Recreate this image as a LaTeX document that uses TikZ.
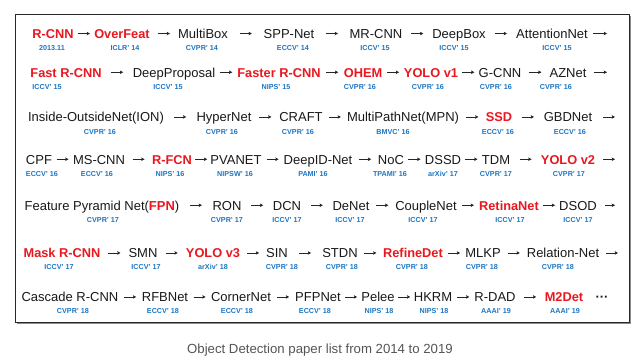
\documentclass[tikz,border=0pt]{standalone}
\usepackage{fontspec}
\setmainfont{Liberation Sans}
\usetikzlibrary{arrows.meta,calc}
\definecolor{hl}{RGB}{232,24,32}
\definecolor{yr}{RGB}{28,118,196}
\definecolor{framec}{RGB}{40,40,40}
\definecolor{capc}{RGB}{85,85,85}
\tikzset{
 paper/.style={inner sep=0pt, anchor=base, text height=9.5pt, text depth=0pt, font=\fontsize{13}{15}\selectfont, text=black!90},
 key/.style={paper, text=hl, font=\fontsize{12.8}{15}\selectfont\bfseries},
 venue/.style={inner sep=0pt, anchor=base, font=\fontsize{7.2}{8}\selectfont\bfseries, text=yr},
 arr/.style={draw=black!85, line width=0.65pt, -{Stealth[length=3.2pt,width=3.4pt,inset=0.6pt]}},
}
\newcommand\lnk[2]{\draw[arr] ($(#1.east)!.5!(#2.west)+(-6,0)$) -- ($(#1.east)!.5!(#2.west)+(6,0)$);}
\begin{document}
\begin{tikzpicture}[x=1pt,y=-1pt]
\useasboundingbox (0,0) rectangle (638,364);
\fill[white] (0,0) rectangle (638,364);
% frame with shadow
\draw[black!45, line width=1.4pt] (630.5,15.5) -- (630.5,323.5) -- (16.5,323.5);
\draw[framec, line width=0.9pt] (15,14) rectangle (629,322);

% ---------- Row 1
\node[key]   (a1) at (53,38.3) {R-CNN};
\node[key]   (a2) at (122,38.3) {OverFeat};
\node[paper] (a3) at (203,38.3) {MultiBox};
\node[paper] (a4) at (289,38.3) {SPP-Net};
\node[paper] (a5) at (376,38.3) {MR-CNN};
\node[paper] (a6) at (459,38.3) {DeepBox};
\node[paper] (a7) at (552,38.3) {AttentionNet};
\coordinate (ae) at (607,33.55);
\node[venue] (va1) at (52,50.8) {2013.11};
\node[venue] (va2) at (125,50.8) {ICLR' 14};
\node[venue] (va3) at (202,50.8) {CVPR' 14};
\node[venue] (va4) at (293,50.8) {ECCV' 14};
\node[venue] (va5) at (375,50.8) {ICCV' 15};
\node[venue] (va6) at (454,50.8) {ICCV' 15};
\node[venue] (va7) at (557,50.8) {ICCV' 15};
\lnk{a1}{a2}\lnk{a2}{a3}\lnk{a3}{a4}\lnk{a4}{a5}\lnk{a5}{a6}\lnk{a6}{a7}
\draw[arr, shorten <=5pt] (a7.east) -- (ae);

% ---------- Row 2
\node[key]   (b1) at (66,77) {Fast R-CNN};
\node[paper] (b2) at (174,77) {DeepProposal};
\node[key]   (b3) at (279,77) {Faster R-CNN};
\node[key]   (b4) at (363,77) {OHEM};
\node[key]   (b5) at (431,77) {YOLO v1};
\node[paper] (b6) at (500,77) {G-CNN};
\node[paper] (b7) at (568,77) {AZNet};
\coordinate (be) at (607,72.25);
\node[venue] (vb1) at (47,89.5) {ICCV' 15};
\node[venue] (vb2) at (168,89.5) {ICCV' 15};
\node[venue] (vb3) at (276,89.5) {NIPS' 15};
\node[venue] (vb4) at (360,89.5) {CVPR' 16};
\node[venue] (vb5) at (428,89.5) {CVPR' 16};
\node[venue] (vb6) at (496,89.5) {CVPR' 16};
\node[venue] (vb7) at (556,89.5) {CVPR' 16};
\lnk{b1}{b2}\lnk{b2}{b3}\lnk{b3}{b4}\lnk{b4}{b5}\lnk{b5}{b6}\lnk{b6}{b7}
\draw[arr, shorten <=7pt] (b7.east) -- (be);

% ---------- Row 3
\node[paper] (c1) at (96,121.7) {Inside-OutsideNet(ION)};
\node[paper] (c2) at (224,121.7) {HyperNet};
\node[paper] (c3) at (301,121.7) {CRAFT};
\node[paper] (c4) at (403,121.7) {MultiPathNet(MPN)};
\node[key]   (c5) at (499,121.7) {SSD};
\node[paper] (c6) at (568,121.7) {GBDNet};
\coordinate (ce) at (615,116.95);
\node[venue] (vc1) at (100,134.2) {CVPR' 16};
\node[venue] (vc2) at (222,134.2) {CVPR' 16};
\node[venue] (vc3) at (298,134.2) {CVPR' 16};
\node[venue] (vc4) at (393,134.2) {BMVC' 16};
\node[venue] (vc5) at (498,134.2) {ECCV' 16};
\node[venue] (vc6) at (570,134.2) {ECCV' 16};
\lnk{c1}{c2}\lnk{c2}{c3}\lnk{c3}{c4}\lnk{c4}{c5}\lnk{c5}{c6}
\draw[arr, shorten <=11pt] (c6.east) -- (ce);

% ---------- Row 4
\node[paper] (d1) at (39,164) {CPF};
\node[paper] (d2) at (99,164) {MS-CNN};
\node[key]   (d3) at (172,164) {R-FCN};
\node[paper] (d4) at (236,164) {PVANET};
\node[paper] (d5) at (318,164) {DeepID-Net};
\node[paper] (d6) at (391,164) {NoC};
\node[paper] (d7) at (443,164) {DSSD};
\node[paper] (d8) at (496,164) {TDM};
\node[key]   (d9) at (568,164) {YOLO v2};
\coordinate (de) at (615,159.25);
\node[venue] (vd1) at (42,176.8) {ECCV' 16};
\node[venue] (vd2) at (97,176.8) {ECCV' 16};
\node[venue] (vd3) at (170,176.8) {NIPS' 16};
\node[venue] (vd4) at (235,176.8) {NIPSW' 16};
\node[venue] (vd5) at (313,176.8) {PAMI' 16};
\node[venue] (vd6) at (390,176.8) {TPAMI' 16};
\node[venue] (vd7) at (443,176.8) {arXiv' 17};
\node[venue] (vd8) at (496,176.8) {CVPR' 17};
\node[venue] (vd9) at (569,176.8) {CVPR' 17};
\lnk{d1}{d2}\lnk{d2}{d3}\lnk{d3}{d4}\lnk{d4}{d5}\lnk{d5}{d6}\lnk{d6}{d7}\lnk{d7}{d8}\lnk{d8}{d9}
\draw[arr, shorten <=8pt] (d9.east) -- (de);

% ---------- Row 5
\node[paper] (e1) at (102,210) {Feature Pyramid Net(\textcolor{hl}{\bfseries FPN})};
\node[paper] (e2) at (227,210) {RON};
\node[paper] (e3) at (287,210) {DCN};
\node[paper] (e4) at (351,210) {DeNet};
\node[paper] (e5) at (426,210) {CoupleNet};
\node[key]   (e6) at (509,210) {RetinaNet};
\node[paper] (e7) at (578,210) {DSOD};
\coordinate (ee) at (615,205.25);
\node[venue] (ve1) at (103,222.5) {CVPR' 17};
\node[venue] (ve2) at (227,222.5) {CVPR' 17};
\node[venue] (ve3) at (287,222.5) {ICCV' 17};
\node[venue] (ve4) at (350,222.5) {ICCV' 17};
\node[venue] (ve5) at (423,222.5) {ICCV' 17};
\node[venue] (ve6) at (510,222.5) {ICCV' 17};
\node[venue] (ve7) at (578,222.5) {ICCV' 17};
\lnk{e1}{e2}\lnk{e2}{e3}\lnk{e3}{e4}\lnk{e4}{e5}\lnk{e5}{e6}\lnk{e6}{e7}
\draw[arr, shorten <=8pt] (e7.east) -- (ee);

% ---------- Row 6
\node[key]   (f1) at (62,257.7) {Mask R-CNN};
\node[paper] (f2) at (143,257.7) {SMN};
\node[key]   (f3) at (213,257.7) {YOLO v3};
\node[paper] (f4) at (277,257.7) {SIN};
\node[paper] (f5) at (340,257.7) {STDN};
\node[key]   (f6) at (413,257.7) {RefineDet};
\node[paper] (f7) at (483,257.7) {MLKP};
\node[paper] (f8) at (563,257.7) {Relation-Net};
\coordinate (fe) at (618,252.95);
\node[venue] (vf1) at (59,269.2) {ICCV' 17};
\node[venue] (vf2) at (146,269.2) {ICCV' 17};
\node[venue] (vf3) at (213,269.2) {arXiv' 18};
\node[venue] (vf4) at (282,269.2) {CVPR' 18};
\node[venue] (vf5) at (342,269.2) {CVPR' 18};
\node[venue] (vf6) at (412,269.2) {CVPR' 18};
\node[venue] (vf7) at (482,269.2) {CVPR' 18};
\node[venue] (vf8) at (558,269.2) {CVPR' 18};
\lnk{f1}{f2}\lnk{f2}{f3}\lnk{f3}{f4}\lnk{f4}{f5}\lnk{f5}{f6}\lnk{f6}{f7}\lnk{f7}{f8}
\draw[arr, shorten <=7pt] (f8.east) -- (fe);

% ---------- Row 7
\node[paper] (g1) at (70,301.7) {Cascade R-CNN};
\node[paper] (g2) at (165,301.7) {RFBNet};
\node[paper] (g3) at (241,301.7) {CornerNet};
\node[paper] (g4) at (318,301.7) {PFPNet};
\node[paper] (g5) at (378,301.7) {Pelee};
\node[paper] (g6) at (433,301.7) {HKRM};
\node[paper] (g7) at (495,301.7) {R-DAD};
\node[key]   (g8) at (564,301.7) {M2Det};
\node[paper, font=\fontsize{13}{15}\selectfont\bfseries] (g9) at (602,301.7) {···};
\node[venue] (vg1) at (73,313.7) {CVPR' 18};
\node[venue] (vg2) at (163,313.7) {ECCV' 18};
\node[venue] (vg3) at (237,313.7) {ECCV' 18};
\node[venue] (vg4) at (315,313.7) {ECCV' 18};
\node[venue] (vg5) at (379,313.7) {NIPS' 18};
\node[venue] (vg6) at (434,313.7) {NIPS' 18};
\node[venue] (vg7) at (496,313.7) {AAAI' 19};
\node[venue] (vg8) at (565,313.7) {AAAI' 19};
\lnk{g1}{g2}\lnk{g2}{g3}\lnk{g3}{g4}\lnk{g4}{g5}\lnk{g5}{g6}\lnk{g6}{g7}\lnk{g7}{g8}

% caption
\node[inner sep=0pt, anchor=base, text=capc, font=\fontsize{13.2}{15}\selectfont] (cap) at (320,353) {Object Detection paper list from 2014 to 2019};
\end{tikzpicture}
\end{document}
